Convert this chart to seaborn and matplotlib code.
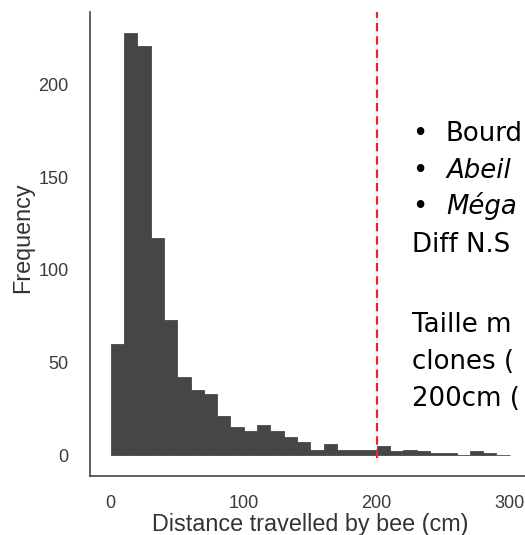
import numpy as np
import pandas as pd
import matplotlib
matplotlib.use("Agg")
import matplotlib.pyplot as plt
import seaborn as sns

# ---- data ----
bin_width = 10
bin_starts = list(range(0, 300, 10))
counts = [60, 228, 221, 117, 73, 42, 35, 33, 21, 15,
          13, 16, 13, 10, 7, 3, 6, 3, 3, 3,
          5, 2, 3, 2, 1, 1, 0, 2, 1, 0]
threshold = 200
x_ticks = [0, 100, 200, 300]
y_ticks = [0, 50, 100, 150, 200]
x_label = "Distance travelled by bee (cm)"
y_label = "Frequency"
# the reference slide text is cut by the image edge; only the visible part is kept
side_bullets = [("Bourd", "normal"), ("Abeil", "italic"), ("Méga", "italic")]
side_lines = ["Diff N.S", "", "Taille m", "clones (", "200cm ("]

df = pd.DataFrame({"start": bin_starts, "count": counts})
df["mid"] = df["start"] + bin_width / 2
edges = [float(e) for e in bin_starts] + [float(bin_starts[-1] + bin_width)]

sns.set_style("white")
plt.rcParams["font.family"] = ["Liberation Sans", "DejaVu Sans"]

W, H = 525, 535
fig = plt.figure(figsize=(W / 100, H / 100), dpi=100)
ax = fig.add_axes([90 / W, 1 - 476 / H, 1 - 90 / W, (476 - 12) / H])

sns.histplot(data=df, x="mid", weights="count", bins=edges, ax=ax,
             color="#464646", alpha=1, edgecolor="#484848", linewidth=0.6)

ax.set_xlim(-15.6, 311.5)
ax.set_ylim(-11.3, 239.1)

ax.axvline(threshold, ymin=(476 - 458) / 464, ymax=1, color="#e8262b",
           lw=1.6, linestyle=(0, (3.8, 2.2)), zorder=3)

ax.set_xticks(x_ticks)
ax.set_yticks(y_ticks)
ax.tick_params(axis="both", direction="in", length=6.5, width=1.0,
               color="#333333", labelcolor="#3a3a3a", labelsize=13)
ax.tick_params(axis="y", pad=15.5)
ax.tick_params(axis="x", pad=14)

for side in ["top", "right"]:
    ax.spines[side].set_visible(False)
for side in ["left", "bottom"]:
    ax.spines[side].set_color("#444444")
    ax.spines[side].set_linewidth(1.2)

ax.set_ylabel(y_label, fontsize=16.8, color="#333333", va="center")
ax.yaxis.set_label_coords((23 - 90) / 435, (476 - 238) / 464)
ax.set_xlabel(x_label, fontsize=16.8, color="#333333", va="center")
ax.xaxis.set_label_coords((310 - 90) / 435, (476 - 524) / 464)

# right-hand annotation text
tfont = dict(family="DejaVu Sans", color="black", va="baseline", ha="left")
baselines = [141, 177.5, 214, 252, 292, 332, 369, 406.5]
texts = []
for i, (word, style) in enumerate(side_bullets):
    y = 1 - baselines[i] / H
    texts.append(fig.text(412 / W, y, "•", **tfont))
    texts.append(fig.text(446 / W, y, word, style=style, **tfont))
for j, line in enumerate(side_lines):
    if line:
        texts.append(fig.text(412 / W, 1 - baselines[3 + j] / H, line, **tfont))

# shrink the block uniformly until every line fits inside the canvas
size = 21.0
fig.canvas.draw()
renderer = fig.canvas.get_renderer()
while size > 12:
    for t in texts:
        t.set_fontsize(size)
    right = max(t.get_window_extent(renderer).x1 for t in texts)
    if right <= W - 2:
        break
    size -= 0.25

fig.savefig("out.png", dpi=100)
